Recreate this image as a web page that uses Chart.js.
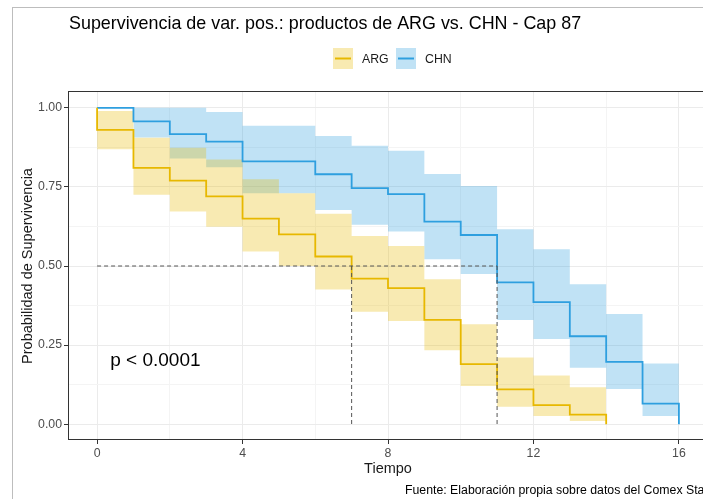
<!DOCTYPE html>
<html>
<head>
<meta charset="utf-8">
<script src="https://cdn.jsdelivr.net/npm/chart.js@4"></script>
<style>
  html, body { margin: 0; padding: 0; background: #fff; overflow: hidden; }
  #wrap { width: 703px; height: 499px; overflow: hidden; position: relative; }
  canvas { display: block; }
</style>
</head>
<body>
<div id="wrap"><canvas id="km" width="720" height="499"></canvas></div>
<script>
// Kaplan-Meier curves (step points: value holds from time until next time)
const argTimes = [0, 0, 1, 2, 3, 4, 5, 6, 7, 8, 9, 10, 11, 12, 13, 14];
const argSurv  = [1, 0.93, 0.81, 0.77, 0.72, 0.65, 0.60, 0.53, 0.46, 0.43, 0.33, 0.19, 0.11, 0.06, 0.03, 0];

const chnTimes = [0, 1, 2, 3, 4, 6, 7, 8, 9, 10, 11, 12, 13, 14, 15, 16];
const chnSurv  = [1, 0.957, 0.917, 0.893, 0.831, 0.79, 0.746, 0.727, 0.64, 0.598, 0.448, 0.386, 0.278, 0.197, 0.065, 0];

// Confidence bands
const argBandTimes = [0, 1, 2, 3, 4, 5, 6, 7, 8, 9, 10, 11, 12, 13, 14];
const argUpper = [0.99, 0.905, 0.874, 0.837, 0.774, 0.73, 0.665, 0.595, 0.563, 0.458, 0.316, 0.211, 0.154, 0.117, 0.117];
const argLower = [0.869, 0.725, 0.672, 0.624, 0.546, 0.50, 0.426, 0.355, 0.326, 0.234, 0.121, 0.055, 0.026, 0.01, 0.01];

const chnBandTimes = [1, 2, 3, 4, 5, 6, 7, 8, 9, 10, 11, 12, 13, 14, 15, 16];
const chnUpper = [1.0, 1.0, 0.987, 0.943, 0.943, 0.911, 0.88, 0.864, 0.791, 0.753, 0.616, 0.553, 0.442, 0.348, 0.192, 0.192];
const chnLower = [0.906, 0.84, 0.812, 0.73, 0.73, 0.677, 0.63, 0.609, 0.521, 0.475, 0.329, 0.269, 0.178, 0.111, 0.026, 0.026];

// median survival lines
const medianLevel = 0.5;
const medianTimes = [7, 11];

const xMajorTicks = [0, 4, 8, 12, 16];
const xMinorTicks = [2, 6, 10, 14];
const yMajorTicks = [0, 0.25, 0.5, 0.75, 1];
const yMinorTicks = [0.125, 0.375, 0.625, 0.875];

const seriesNames = ['ARG', 'CHN'];
const lineColors = ['#E7B800', '#2E9FDF'];
const bandColors = ['rgba(231,184,0,0.3)', 'rgba(46,159,223,0.3)'];

const FONT = '"Liberation Sans", Arial, sans-serif';

const toPts = (xs, ys) => xs.map((x, i) => ({ x: x, y: ys[i] }));
const isMajorX = v => xMajorTicks.includes(v);
const isMajorY = v => yMajorTicks.some(m => Math.abs(m - v) < 1e-9);

function bandPair(times, upper, lower, color) {
    return [
        { data: toPts(times, upper), borderWidth: 0, pointRadius: 0, stepped: 'before',
          backgroundColor: color, fill: '+1', order: 10 },
        { data: toPts(times, lower), borderWidth: 0, pointRadius: 0, stepped: 'before',
          backgroundColor: 'transparent', fill: false, order: 10 }
    ];
}

const dashStyle = { borderColor: '#555', borderWidth: 1, borderDash: [4, 3], pointRadius: 0, fill: false, order: -1 };
const lastMedian = medianTimes[medianTimes.length - 1];

const datasets = [
    ...bandPair(argBandTimes, argUpper, argLower, bandColors[0]),
    ...bandPair(chnBandTimes, chnUpper, chnLower, bandColors[1]),
    { label: 'ARG', data: toPts(argTimes, argSurv), borderColor: lineColors[0], borderWidth: 1.8,
      pointRadius: 0, stepped: 'before', fill: false, order: 0 },
    { label: 'CHN', data: toPts(chnTimes, chnSurv), borderColor: lineColors[1], borderWidth: 1.8,
      pointRadius: 0, stepped: 'before', fill: false, order: 0 },
    { data: [{ x: 0, y: medianLevel }, { x: lastMedian, y: medianLevel }], ...dashStyle },
    ...medianTimes.map(t => ({ data: [{ x: t, y: medianLevel }, { x: t, y: 0 }], ...dashStyle }))
];

const decorations = {
    id: 'decorations',
    afterDraw(chart) {
        const ctx = chart.ctx;
        const area = chart.chartArea;
        const xs = chart.scales.x, ys = chart.scales.y;
        ctx.save();

        // outer plot background border
        ctx.strokeStyle = '#bdbdbd';
        ctx.lineWidth = 1;
        ctx.strokeRect(12.5, 7.5, 1000, 1000);

        // panel border
        ctx.strokeStyle = '#333';
        ctx.strokeRect(area.left + 0.5, area.top - 0.5, area.right - area.left, area.bottom - area.top);

        // title
        ctx.fillStyle = '#000';
        ctx.font = '17.9px ' + FONT;
        ctx.textAlign = 'left';
        ctx.textBaseline = 'alphabetic';
        ctx.fillText('Supervivencia de var. pos.: productos de ARG vs. CHN - Cap 87', 69, 29);

        // legend
        const keyX = [333, 396];
        ctx.font = '12.3px ' + FONT;
        ctx.textBaseline = 'middle';
        seriesNames.forEach((name, i) => {
            ctx.fillStyle = bandColors[i];
            ctx.fillRect(keyX[i], 48, 20, 21);
            ctx.strokeStyle = lineColors[i];
            ctx.lineWidth = 2;
            ctx.beginPath();
            ctx.moveTo(keyX[i] + 2, 58.5);
            ctx.lineTo(keyX[i] + 18, 58.5);
            ctx.stroke();
            ctx.fillStyle = '#1a1a1a';
            ctx.fillText(name, keyX[i] + 29, 60);
        });

        // p-value
        ctx.fillStyle = '#000';
        ctx.font = '19px ' + FONT;
        ctx.textBaseline = 'middle';
        ctx.fillText('p < 0.0001', xs.getPixelForValue(0.36), ys.getPixelForValue(0.2));

        // axis titles
        ctx.font = '14.5px ' + FONT;
        ctx.fillStyle = '#1a1a1a';
        ctx.textAlign = 'center';
        ctx.fillText('Tiempo', xs.getPixelForValue(8), 469);
        ctx.save();
        ctx.translate(27.5, (area.top + area.bottom) / 2);
        ctx.rotate(-Math.PI / 2);
        ctx.fillText('Probabilidad de Supervivencia', 0, 0);
        ctx.restore();

        // caption
        ctx.font = '12.3px ' + FONT;
        ctx.textAlign = 'left';
        ctx.fillStyle = '#000';
        ctx.fillText('Fuente: Elaboración propia sobre datos del Comex Stat', 405, 491);

        ctx.restore();
    }
};

new Chart(document.getElementById('km'), {
    type: 'line',
    data: { datasets: datasets },
    options: {
        responsive: false,
        animation: false,
        events: [],
        layout: { padding: { top: 92, left: 0, right: 12, bottom: 0 } },
        plugins: { legend: { display: false }, tooltip: { enabled: false }, title: { display: false } },
        scales: {
            x: {
                type: 'linear',
                min: -0.8,
                max: 16.8,
                afterBuildTicks: scale => {
                    scale.ticks = [...xMajorTicks, ...xMinorTicks].sort((a, b) => a - b).map(v => ({ value: v }));
                },
                afterFit: scale => { scale.height = 59; },
                ticks: {
                    autoSkip: false,
                    maxRotation: 0,
                    padding: 2,
                    color: '#4d4d4d',
                    font: { family: FONT, size: 12.3 },
                    callback: v => isMajorX(v) ? String(v) : ''
                },
                grid: {
                    drawTicks: true,
                    tickLength: 4,
                    color: ctx => isMajorX(ctx.tick.value) ? '#ebebeb' : '#f4f4f4',
                    tickColor: ctx => isMajorX(ctx.tick.value) ? '#333' : 'rgba(0,0,0,0)'
                },
                border: { display: false }
            },
            y: {
                type: 'linear',
                min: -0.05,
                max: 1.05,
                afterBuildTicks: scale => {
                    scale.ticks = [...yMajorTicks, ...yMinorTicks].sort((a, b) => a - b).map(v => ({ value: v }));
                },
                afterFit: scale => { scale.width = 68; },
                ticks: {
                    autoSkip: false,
                    padding: 2,
                    color: '#4d4d4d',
                    font: { family: FONT, size: 12.3 },
                    callback: v => isMajorY(v) ? v.toFixed(2) : ''
                },
                grid: {
                    drawTicks: true,
                    tickLength: 4,
                    color: ctx => isMajorY(ctx.tick.value) ? '#ebebeb' : '#f4f4f4',
                    tickColor: ctx => isMajorY(ctx.tick.value) ? '#333' : 'rgba(0,0,0,0)'
                },
                border: { display: false }
            }
        }
    },
    plugins: [decorations]
});
</script>
</body>
</html>
